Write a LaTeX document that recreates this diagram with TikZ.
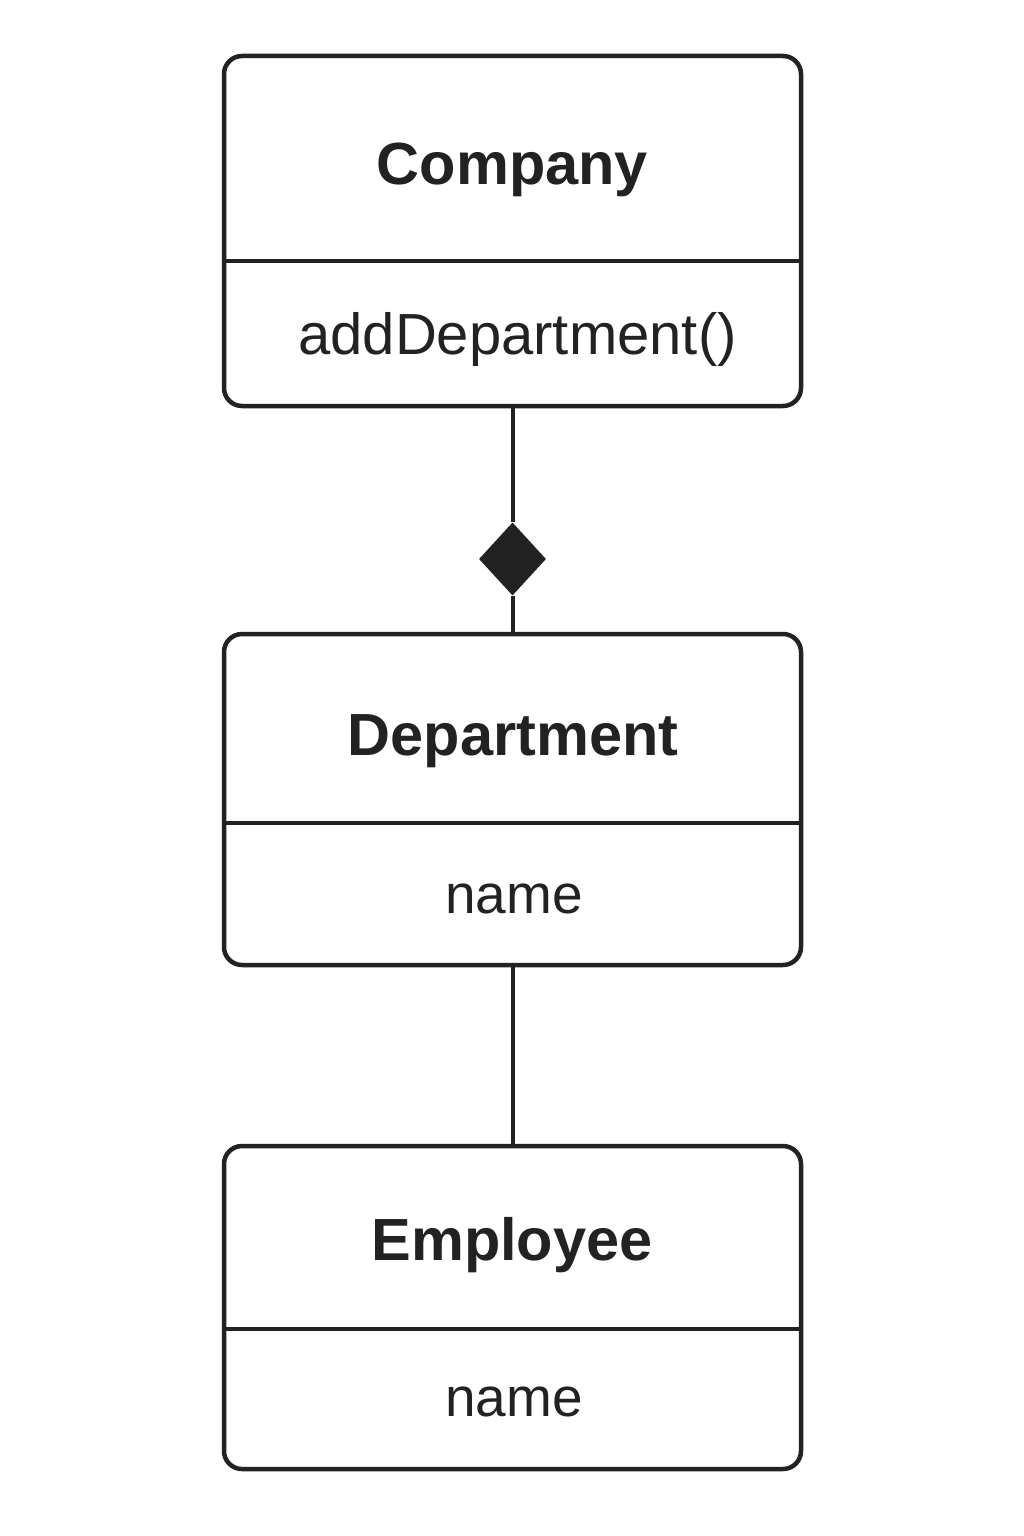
\documentclass[tikz,border=0pt]{standalone}
\usepackage{fontspec}
\setmainfont{Liberation Sans}
\usetikzlibrary{shapes.geometric}
\definecolor{linecol}{HTML}{222222}

\begin{document}
\begin{tikzpicture}
		[x=1pt, y=-1pt,
		 classbox/.style={draw=linecol, line width=4.5pt, rounded corners=18pt, minimum width=577pt, inner sep=0pt},
		 classname/.style={anchor=base, text=linecol, font=\fontsize{59.5}{70}\selectfont\bfseries},
		 member/.style={anchor=base, text=linecol, font=\fontsize{55}{66}\selectfont},
		 divider/.style={draw=linecol, line width=4.5pt},
		 link/.style={draw=linecol, line width=4pt},
		 compos/.style={diamond, fill=linecol, minimum width=67pt, minimum height=73pt, inner sep=0pt}]
			\useasboundingbox (0,0) rectangle (1024,1536);
			% classes
			\node [classbox, minimum height=350pt] (comp) at (512.5,231) {};
			\node [classbox, minimum height=331pt] (dept) at (512.5,799.5) {};
			\node [classbox, minimum height=323pt] (emp) at (512.5,1307.5) {};
			\draw [divider] (comp.west |- 0,261) -- (comp.east |- 0,261);
			\draw [divider] (dept.west |- 0,823) -- (dept.east |- 0,823);
			\draw [divider] (emp.west |- 0,1329) -- (emp.east |- 0,1329);
			\node [classname] (compname) at (512.5,184) {Company};
			\node [member, font=\fontsize{58}{68}\selectfont] (compop) at (517.5,354) {addDepartment()};
			\node [classname] (deptname) at (513,755) {Department};
			\node [member] (deptattr) at (514,913) {name};
			\node [classname] (empname) at (512,1260) {Employee};
			\node [member] (empattr) at (514,1416) {name};
			% links
			\node [compos] (dia) at (512.5,559) {};
			\draw [link] (comp.south) -- (dia.north);
			\draw [link] (dia.south) -- (dept.north);
			\draw [link] (dept.south) -- (emp.north);
	\end{tikzpicture}
\end{document}
